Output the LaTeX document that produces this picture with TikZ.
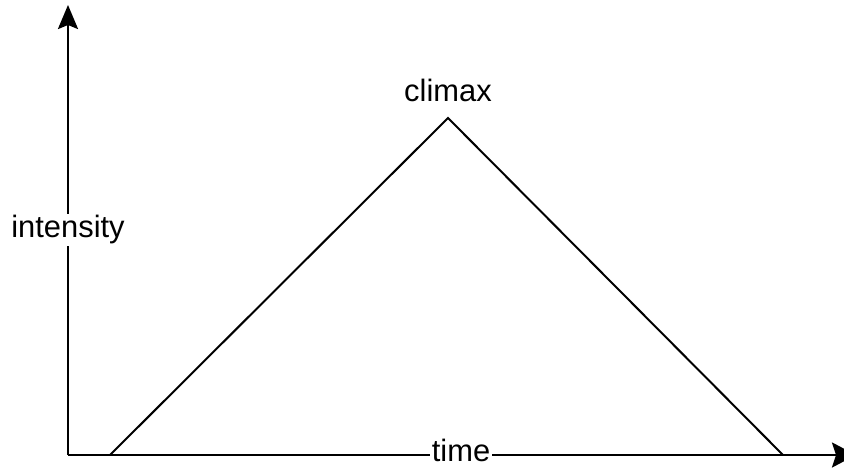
\documentclass[tikz,border=0pt]{standalone}
\usepackage{fontspec}
\setmainfont{Liberation Sans}
\usetikzlibrary{arrows.meta}
\begin{document}
\begin{tikzpicture}[x=1bp,y=-1bp,
  axis/.style={line width=2.6bp},
  vtip/.style={-{Stealth[length=24bp,width=20bp,inset=4bp]}},
  htip/.style={-{Stealth[length=24bp,width=25bp,inset=4bp]}},
  tri/.style={line width=2bp,line join=miter},
  lbl/.style={font=\fontsize{31}{34}\selectfont,inner sep=1.5bp,anchor=base},
  lblw/.style={lbl,fill=white}]
\useasboundingbox (0,0) rectangle (844,469);
\coordinate (o) at (68,455);
\coordinate (ytop) at (68,5);
\coordinate (xend) at (856,455);
\coordinate (a) at (110,455);
\coordinate (p) at (448,118);
\coordinate (b) at (783,455);
\draw[tri] (a) -- (p) -- (b);
\draw[axis,vtip] (o) -- (ytop);
\draw[axis,htip] (o) -- (xend);
\node[lblw] (int) at (68,238) {intensity};
\node[lblw] (time) at (461,461) {time};
\node[lbl] (cl) at (448,102) {climax};
\end{tikzpicture}
\end{document}
